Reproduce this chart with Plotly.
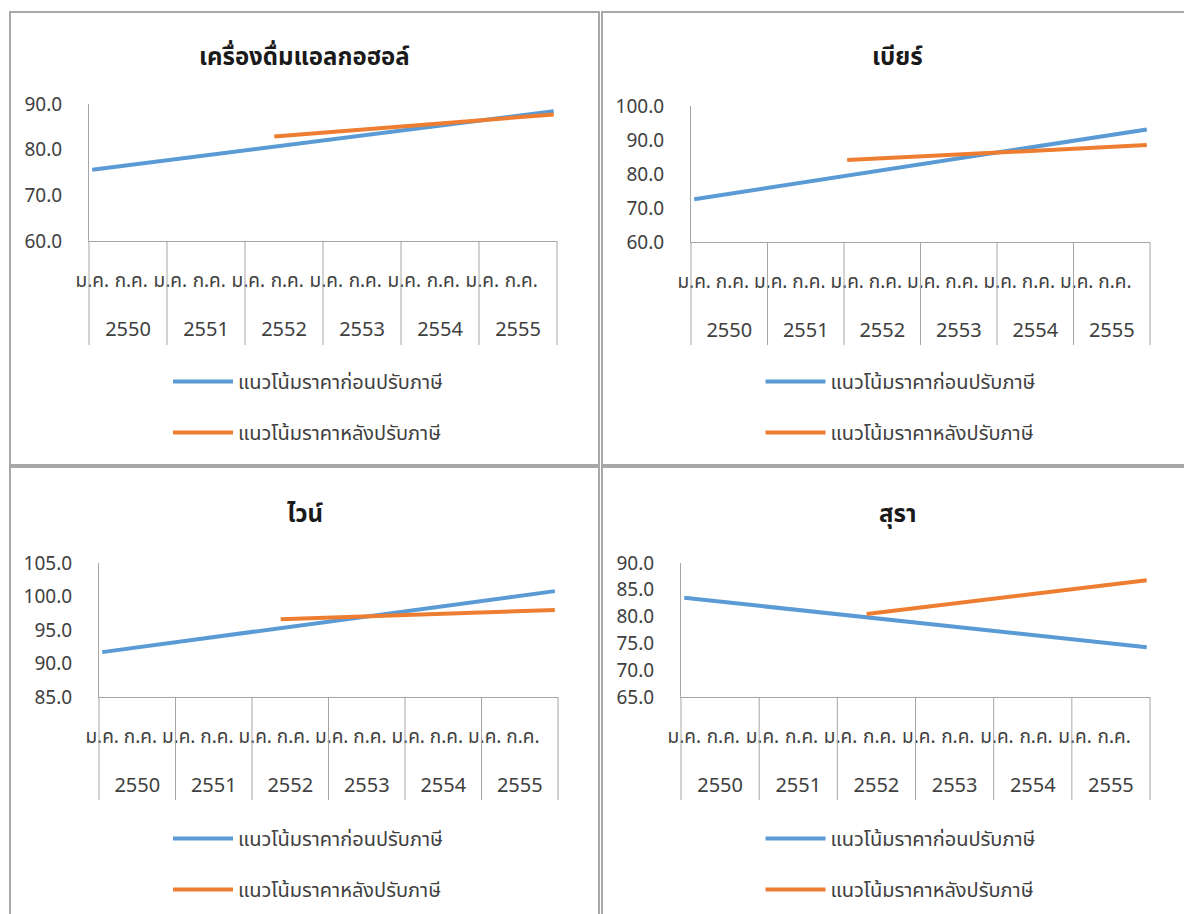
import plotly.graph_objects as go

# ---- data -----------------------------------------------------------------
titles = ["เครื่องดื่มแอลกอฮอล์", "เบียร์", "ไวน์", "สุรา"]
years = ["2550", "2551", "2552", "2553", "2554", "2555"]
month_names = ["ม.ค.", "ก.พ.", "มี.ค.", "เม.ย.", "พ.ค.", "มิ.ย.",
               "ก.ค.", "ส.ค.", "ก.ย.", "ต.ค.", "พ.ย.", "ธ.ค."]
series_names = ["แนวโน้มราคาก่อนปรับภาษี", "แนวโน้มราคาหลังปรับภาษี"]

# trend lines: month index (0 = ม.ค. 2550) of first/last point and value
before_months = [[0, 71], [0, 71], [0, 71], [0, 71]]
before_values = [[75.6, 88.4], [72.6, 93.1], [91.7, 100.8], [83.5, 74.3]]
after_months = [[28, 71], [24, 71], [28, 71], [28, 71]]
after_values = [[82.9, 87.7], [84.1, 88.5], [96.6, 98.0], [80.5, 86.8]]

y_ranges = [[60, 90], [60, 100], [85, 105], [65, 90]]
y_steps = [10, 10, 5, 5]

# ---- geometry (pixels) ----------------------------------------------------
W, H = 1184, 914
plot_px = [(89, 557, 104, 241), (691, 1150, 106, 242),
           (99, 558, 563, 697), (681, 1150, 563, 697)]
panel_px = [(10, 599, 12, 465), (602, 1192, 12, 465),
            (10, 599, 467, 922), (602, 1192, 467, 922)]
title_y_px = [58, 58, 515, 515]
legend_top_px = [362, 362, 819, 819]
divider_bottom_px = [345, 345, 800, 800]


def px_x(v):
    return v / W


def px_y(v):
    return 1 - v / H


BLUE = "#5B9BD5"
ORANGE = "#ED7D31"
AXIS = "#a6a6a6"
TEXT = "#404040"
FONT = "Tahoma, 'Leelawadee UI', 'Noto Sans Thai', 'Noto Sans', sans-serif"
TICK_SIZE = 19

n_months = len(years) * len(month_names)
month_ticks = list(range(0, n_months, 6))
month_text = [month_names[m % 12] for m in month_ticks]
year_ticks = [i * 12 + 5.5 for i in range(len(years))]

fig = go.Figure()
layout = dict(
    template="none",
    width=W, height=H,
    margin=dict(l=0, r=0, t=0, b=0, pad=0, autoexpand=False),
    paper_bgcolor="white", plot_bgcolor="white",
    font=dict(family=FONT, color=TEXT, size=16),
    showlegend=True, shapes=[], annotations=[],
)

for i in range(4):
    k = i + 1
    xa = "x" if k == 1 else f"x{k}"
    ya = "y" if k == 1 else f"y{k}"
    xa_year = f"x{k + 4}"
    leg = "legend" if k == 1 else f"legend{k}"
    x0, x1, y0, y1 = plot_px[i]

    fig.add_trace(go.Scatter(
        x=before_months[i], y=before_values[i], mode="lines",
        name=series_names[0], line=dict(color=BLUE, width=4),
        xaxis=xa, yaxis=ya, legend=leg, legendgroup=f"b{k}",
        hoverinfo="skip"))
    fig.add_trace(go.Scatter(
        x=after_months[i], y=after_values[i], mode="lines",
        name=series_names[1], line=dict(color=ORANGE, width=4),
        xaxis=xa, yaxis=ya, legend=leg, legendgroup=f"a{k}",
        hoverinfo="skip"))
    # empty trace that attaches the year-row axis to this subplot
    fig.add_trace(go.Scatter(
        x=[], y=[], mode="lines", xaxis=xa_year, yaxis=ya,
        showlegend=False, hoverinfo="skip"))

    domain_x = [px_x(x0), px_x(x1)]
    domain_y = [px_y(y1), px_y(y0)]
    layout[f"xaxis{k}" if k > 1 else "xaxis"] = dict(
        domain=domain_x, anchor=ya, range=[-0.5, n_months - 0.5],
        showgrid=False, zeroline=False, showline=True, linecolor=AXIS,
        linewidth=1, ticks="", tickmode="array", tickvals=month_ticks,
        ticktext=month_text, ticklabelstandoff=22, automargin=False,
        tickfont=dict(size=TICK_SIZE, color=TEXT))
    layout[f"yaxis{k}" if k > 1 else "yaxis"] = dict(
        domain=domain_y, anchor=xa, range=y_ranges[i], dtick=y_steps[i],
        tick0=y_ranges[i][0], tickformat=".1f", showgrid=False,
        zeroline=False, showline=True, linecolor=AXIS, linewidth=1,
        ticks="", ticklabelstandoff=22, automargin=False,
        tickfont=dict(size=TICK_SIZE, color=TEXT))
    # year row of the category axis
    layout[f"xaxis{k + 4}"] = dict(
        overlaying=xa, anchor=ya, side="bottom",
        range=[-0.5, n_months - 0.5], showgrid=False, zeroline=False,
        showline=False, ticks="", tickmode="array", tickvals=year_ticks,
        ticktext=years, ticklabelstandoff=74, automargin=False,
        tickfont=dict(size=20, color=TEXT))

    # year dividers below the axis
    for j in range(len(years) + 1):
        layout["shapes"].append(dict(
            type="line", xref=f"{xa} domain", yref="paper",
            x0=j / len(years), x1=j / len(years),
            y0=px_y(y1), y1=px_y(divider_bottom_px[i]),
            line=dict(color=AXIS, width=1)))

    # panel frame
    px0, px1, py0, py1 = panel_px[i]
    layout["shapes"].append(dict(
        type="rect", xref="paper", yref="paper",
        x0=px_x(px0), x1=px_x(px1), y0=px_y(py1), y1=px_y(py0),
        line=dict(color="#a8a8a8", width=2), fillcolor="rgba(0,0,0,0)"))

    # panel title
    layout["annotations"].append(dict(
        text=f"<b>{titles[i]}</b>", xref="paper", yref="paper",
        x=px_x((px0 + px1) / 2), y=px_y(title_y_px[i]),
        xanchor="center", yanchor="middle", showarrow=False,
        font=dict(size=24, color="#1a1a1a", family=FONT)))

    layout[leg] = dict(
        x=px_x((px0 + px1) / 2 + 4), xanchor="center",
        y=px_y(legend_top_px[i]), yanchor="top",
        orientation="v", traceorder="grouped", tracegroupgap=22,
        itemwidth=60, bgcolor="rgba(0,0,0,0)", borderwidth=0,
        font=dict(size=20, color=TEXT, family=FONT))

fig.update_layout(**layout)
fig.write_html("out.html")
